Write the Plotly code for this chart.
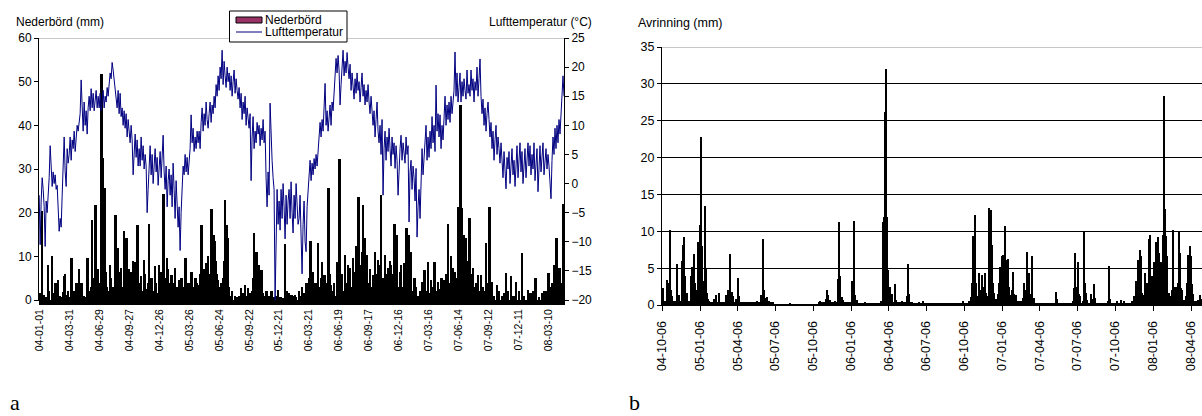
import pandas as pd
import plotly.graph_objects as go

# ---------------- data ----------------
START_A = pd.Timestamp("2004-01-01")   # left chart: first day
START_B = pd.Timestamp("2004-10-06")   # right chart: first day
TEMP_STEP = 3                            # temperature sampled every 3rd day

# Air temperature (°C), one value every 3 days from 2004-01-01
temp_c = [
    -2, -10.5, -3, 1, -1, -4, -10.8, -3, -5, -2,
    1, 6.5, 3, -0.5, 2, 0, 1.5, -1, -0.3, -4,
    -8.2, -6, -7.5, -2, 4, 8, 2, -0.5, 6, 3.5,
    5, 8, 4, 7.5, 6, 9, 5.5, 8, 10, 9,
    11, 12, 17.8, 13, 9, 14, 10, 12.5, 8.5, 13,
    15, 12.5, 16.3, 13, 15.5, 12.5, 14, 16, 13, 15,
    13, 15.5, 12.5, 14.5, 16, 13, 15, 14, 16.5, 15,
    17.5, 19, 18, 20.8, 19.5, 17.5, 16, 15, 13, 16,
    12, 15.5, 11.5, 13, 10, 12.5, 9.5, 12, 8, 11,
    9, 7, 10, 7.5, 1.5, 6, 8.5, 4.5, 7.5, 3,
    6, 3, 8, 4, 6.5, 2.5, 5, 3, -5, -1,
    4, 6.5, 1.5, 5, 0, 3.5, 6, 2, 4.5, -0.3,
    3, 5.5, 1, 4, 8.3, 2, -1, 3, -4, 0.5,
    2.5, -2, 1.5, -4, 3.5, -1, -6, 0.5, -3, -7.5,
    -4, -11.5, -5, -1, 3, 1.5, 5, 2, 4.5, 1.5,
    4, 6, 11.8, 7, 9.5, 5.5, 8, 6, 9, 7,
    9, 6, 10.5, 13, 9, 12, 10, 14, 11, 9.5,
    12, 14, 10.5, 13.5, 12, 15, 13, 17, 15, 18.5,
    16, 20, 18, 22.9, 17, 21, 18.5, 16.5, 20, 17.5,
    19, 16, 18.5, 15, 17.5, 19.5, 15.5, 18, 16, 14.5,
    16.5, 13, 15.5, 11, 14, 12, 15, 10, 13, 11,
    9.5, 12, 0.5, 8, 11.5, 6, 9, 7, 10.5, 8.5,
    10, 6.5, 9.5, 7.5, 11, 7, 9, 1, -4, 2,
    -2, 13.8, 8, 4, 1, -1, -20, -5, -1, -7,
    -3, -8, -1, -6, 0, -4, -9.5, -2, -7, -3,
    -1, -6, 0.3, -5, -8.5, -2, -6, 0, -4, -7,
    -6, -2, -9, -15.5, -7, -3, -10, -11.7, -4, -1,
    2, 4, 0.5, 3.5, 1.5, 4.3, 2.5, 5, 3, 6,
    7, 10.5, 8, 11, 9, 12, 17.2, 10, 12.5, 9,
    11, 13.5, 10, 14, 12.5, 15, 18, 21.5, 19, 22,
    19.5, 13.5, 17, 20, 22.9, 18.5, 21, 19, 22.5, 20,
    18, 20.5, 16, 19, 17, 14.5, 18, 15.5, 19, 16,
    17.5, 14, 16.5, 19, 15, 17, 13.5, 16, 14, 17,
    14, 12, 15, 13, 10, 12.5, 8, 11, 14, 9,
    7, 10, 5, 11, -2, 6, 9, 4, 8, 5.5,
    9.5, 6, 3, 8, 5, 7, 2.6, 6.5, 4, -2,
    3, 6, 8.3, 4, 7, 5, 3.5, 8, 5, 6.5,
    -6.6, 2, 4, -1, 3, 1, -3, 2.6, -9.2, -4,
    -1, -6, 3, 6, 1.5, 5, 7.5, 10, 4, 8,
    4.5, 9, 6, 11.5, 7, 10, 5.5, 16.9, 9, 12,
    8, 11.8, 6, 10, 7.5, 12, 15, 10, 13.5, 11,
    14, 10.5, 15, 12, 14.5, 16, 22.6, 15, 19, 14,
    16.5, 19, 14, 17.5, 15, 18, 16, 14.5, 19.5, 15.5,
    17, 15, 19.5, 16, 18, 14, 17.5, 16, 20, 15,
    18, 21.4, 15, 12, 14.5, 10, 13, 9, 12, 14,
    11, 8, 10.5, 6, 9, 4, 7.5, 10, 5, 8,
    6, 3.5, 7, 4, 1, 5.5, 2, -0.9, 4.5, 2.5,
    5.5, 0, 3, 6, 1.5, 4, -0.5, 3, 6.5, 1,
    4, 7, 2, 5.5, 0, 3.5, 6, 1, 4.5, 7,
    3, 6.5, 1.5, 5, 2.5, 7, 0.5, 4, 6, -1.4,
    3, 6.5, 2, 5, 7, 1.5, 4.5, 6, 2.5, 5,
    3, 0, -2.6, 4, 8, 5, 9.5, 6, 10, 7,
    11, 8.5, 12, 14, 18.5, 15,
]

# Precipitation (mm): (day index from 2004-01-01, mm) for days with rain
precip_obs = [
    (3, 1.5), (6, 0.8), (10, 20.3), (14, 1.2), (20, 0.6), (28, 8), (31, 2), (38, 10), (42, 1.5),
    (47, 3), (50, 4), (54, 2.5), (58, 4.5), (62, 1), (67, 0.8), (72, 1.8), (75, 5.4), (78, 5.9),
    (82, 1.2), (88, 2), (92, 0.7), (98, 9.6), (103, 1.5), (107, 2), (113, 4), (117, 1), (121, 7),
    (125, 2.5), (128, 3.8), (135, 1), (140, 0.6), (146, 9.6), (150, 2), (156, 3), (160, 18.4),
    (163, 5), (166, 2.5), (170, 21.8), (173, 3), (178, 7), (181, 2), (185, 4), (188, 51.7),
    (190, 8), (193, 32.5), (195, 4), (198, 25.6), (201, 6.5), (205, 3), (209, 2), (213, 8),
    (216, 5), (220, 1.5), (224, 3), (230, 19.5), (233, 4), (236, 11.9), (240, 2), (244, 6.5),
    (246, 7.3), (248, 3), (252, 1.5), (256, 15.7), (259, 5), (263, 14.2), (266, 3.5), (270, 7),
    (274, 2), (278, 6.5), (282, 9), (286, 2), (288, 8.8), (290, 3), (296, 17.2), (299, 4),
    (303, 1.5), (306, 5.5), (310, 2), (316, 9.2), (319, 6), (323, 2.5), (327, 4), (331, 17.4),
    (334, 3), (338, 5), (343, 2), (348, 7.7), (352, 4), (356, 1.5), (360, 8), (364, 3),
    (367, 6.5), (370, 2), (374, 24.2), (377, 5), (381, 3), (384, 9.7), (387, 7),
    (391, 2.5), (393, 3), (395, 4), (398, 5.8), (401, 2), (405, 4), (408, 7.3), (412, 2),
    (416, 3), (420, 4.6), (424, 1.5), (428, 5), (433, 2), (437, 3), (440, 9.6), (445, 2),
    (449, 4), (453, 1.5), (458, 6.5), (462, 3), (466, 2), (470, 5), (473, 3.9), (478, 2),
    (481, 3.5), (485, 6), (488, 17.2), (492, 3), (495, 7), (499, 4), (503, 8.4), (508, 10),
    (511, 5), (514, 6), (518, 20.9), (521, 8), (524, 15), (528, 13.4), (531, 9), (534, 6),
    (536, 4.6), (540, 3), (544, 2), (548, 4), (552, 5), (555, 9), (558, 22.8), (561, 6),
    (563, 17.2), (566, 4), (568, 14.2), (571, 3), (575, 1), (580, 2), (588, 1), (595, 0.8),
    (600, 1), (606, 2.7), (612, 1.5), (618, 3.4), (624, 1), (628, 2.7), (634, 1.5), (641, 2),
    (644, 5), (646, 15.3), (649, 4), (653, 11.1), (656, 3), (660, 8), (664, 2), (668, 6.9),
    (672, 1.5), (677, 1), (683, 2), (688, 0.7), (692, 1), (698, 2), (705, 0.6), (712, 1),
    (718, 2.3), (725, 0.8), (731, 0.5), (738, 12.8), (745, 2), (750, 1.5), (758, 1.1),
    (762, 1), (768, 1.1), (770, 0.7),
    (780, 2), (785, 1), (790, 3), (797, 1.5), (803, 4), (808, 2), (812, 5), (815, 13.4),
    (818, 3), (822, 6.5), (826, 2), (830, 4), (837, 13), (842, 3), (846, 5), (849, 8.8),
    (853, 2), (857, 5.7), (861, 4), (865, 3), (869, 25.6), (873, 6), (877, 3.5), (881, 2),
    (886, 4), (890, 1), (895, 8.8), (898, 5), (902, 32.3), (906, 3), (910, 6), (914, 2),
    (919, 10.3), (924, 4), (927, 8), (932, 7.3), (936, 3), (942, 9.6), (946, 5), (949, 6.5),
    (952, 12.3), (955, 4), (959, 23.7), (963, 8), (966, 5), (969, 11), (972, 21.8),
    (977, 14.2), (981, 6), (985, 10.3), (989, 4), (993, 7), (997, 3), (1002, 5.8), (1005, 4),
    (1009, 11.1), (1013, 6), (1017, 9.2), (1021, 3), (1024, 8), (1027, 24.1), (1031, 5),
    (1035, 3), (1039, 10.3), (1043, 6), (1047, 7.3), (1050, 4), (1053, 9), (1057, 8),
    (1061, 5), (1064, 6), (1067, 17.4), (1071, 4), (1075, 15), (1079, 3), (1083, 6.5),
    (1087, 8), (1091, 3), (1095, 8.4), (1099, 5), (1103, 16.6), (1106, 4), (1110, 15),
    (1113, 8), (1117, 11.1), (1121, 2), (1127, 5), (1131, 3), (1138, 1), (1145, 2),
    (1149, 4.2), (1153, 3), (1157, 6.9), (1161, 2), (1167, 8.8), (1171, 1.5), (1177, 4.6),
    (1181, 3), (1187, 8.8), (1191, 2), (1197, 4.2), (1202, 2.5), (1208, 5), (1212, 3),
    (1217, 4.6), (1221, 6), (1227, 17.4), (1231, 4), (1236, 10), (1242, 7.3), (1247, 6.5),
    (1251, 5), (1257, 21.4), (1260, 11), (1262, 8), (1265, 44.7), (1269, 21), (1272, 10),
    (1275, 15), (1278, 7), (1282, 14.2), (1286, 9), (1289, 4), (1292, 18.7), (1296, 6),
    (1302, 7.3), (1306, 3), (1311, 4), (1317, 5.8), (1322, 2), (1327, 5.8), (1333, 3),
    (1337, 2), (1342, 13), (1346, 4), (1352, 21.3), (1355, 2), (1359, 4.2), (1365, 1),
    (1375, 3.5), (1380, 2), (1390, 1), (1396, 1.5), (1402, 6.1), (1408, 2), (1417, 5.4),
    (1424, 1), (1432, 4.2), (1440, 2), (1449, 10.7), (1456, 1), (1467, 2.3), (1475, 1.5),
    (1483, 2), (1490, 5), (1500, 0.8), (1510, 1.5), (1517, 2), (1522, 2), (1529, 6.1),
    (1535, 3), (1540, 4), (1547, 8), (1553, 14.2), (1558, 5), (1562, 7.3), (1566, 4),
    (1572, 1.2), (1574, 22),
]

# Runoff (mm/day): base-flow level per period (start day, end day, mm), days from 2004-10-06
runoff_base = [
    (0, 115, 0.5), (115, 270, 0.35), (270, 380, 0.05), (380, 470, 0.4), (470, 530, 0.3),
    (530, 605, 0.35), (605, 742, 0.25), (742, 900, 0.5), (900, 990, 0.2), (990, 1050, 0.3),
    (1050, 1135, 0.15), (1135, 1305, 0.5),
]
# Runoff events: (day index from 2004-10-06, mm)
runoff_obs = [
    (2, 2.3), (3, 2.0), (12, 3.4), (15, 3.0), (18, 10.2), (19, 5), (21, 2.0), (25, 1.2),
    (35, 5.5), (37, 2), (42, 1.4), (48, 6), (50, 8.2), (54, 9.2), (55, 4), (60, 1.6),
    (70, 4), (72, 5.2), (77, 6.9), (79, 3), (83, 2), (86, 8.5), (88, 3.6), (92, 10.8),
    (95, 22.8), (96, 8), (99, 3.2), (104, 13.4), (105, 5), (108, 1.6), (112, 0.8),
    (125, 0.8), (131, 1.4), (137, 1.6), (155, 1.4), (160, 2), (163, 6.9), (165, 2),
    (168, 1.8), (172, 1.2), (178, 0.8), (184, 3.7), (186, 1.2), (230, 0.5), (240, 1.4),
    (244, 8.9), (246, 2), (251, 1.0), (254, 1.1), (258, 0.6), (309, 0.2), (382, 0.5),
    (385, 0.4), (396, 0.8), (398, 2.0), (400, 1.4), (406, 0.7), (418, 0.5), (424, 2.9),
    (426, 3.5), (428, 11.2), (430, 4), (434, 1.1), (438, 0.7), (460, 3.3), (464, 11.4),
    (466, 1.3), (471, 0.7), (490, 0.4), (510, 0.3), (530, 0.6), (534, 11.3), (536, 12),
    (538, 26.2), (541, 32), (542, 15), (544, 12), (546, 4.8), (550, 2.5), (556, 1.5),
    (562, 2.8), (566, 0.7), (580, 0.5), (592, 1.2), (594, 5.5), (596, 1.5), (620, 0.4),
    (630, 0.6), (728, 0.5), (744, 0.6), (746, 1.1), (748, 3), (751, 9.3), (754, 5),
    (757, 12.2), (759, 3), (762, 1.2), (765, 2), (767, 4.4), (770, 2), (773, 4.1),
    (776, 1.5), (778, 2.5), (780, 4.4), (783, 1.6), (786, 1.2), (789, 6), (791, 13.2),
    (794, 12.9), (796, 5), (798, 8.1), (800, 3), (802, 1.6), (806, 0.8), (812, 1.5),
    (815, 3), (817, 5.2), (819, 4), (821, 6.6), (823, 6.8), (825, 3.5), (827, 5.5),
    (829, 10.7), (831, 4), (834, 6.1), (837, 6.3), (839, 2.5), (842, 1.3), (846, 2),
    (849, 4.5), (851, 1.5), (855, 1.3), (860, 0.6), (873, 1), (875, 3.0), (878, 2),
    (881, 7.2), (883, 2.5), (886, 4.3), (889, 1.5), (893, 6.7), (895, 2), (899, 1.0),
    (952, 1.8), (954, 0.8), (994, 0.6), (996, 2.3), (999, 7.0), (1001, 2.5), (1004, 2),
    (1006, 5.9), (1008, 1.5), (1010, 1.2), (1017, 0.6), (1020, 10.0), (1022, 3),
    (1025, 1.6), (1028, 0.7), (1037, 1.5), (1041, 0.8), (1044, 2.8), (1046, 1),
    (1078, 0.5), (1081, 5.3), (1083, 0.8), (1099, 0.5), (1110, 0.7), (1117, 0.6),
    (1140, 1.2), (1145, 3.2), (1148, 2), (1151, 6.1), (1153, 3), (1155, 7.4), (1157, 6.7),
    (1160, 1.6), (1164, 1.4), (1168, 4.3), (1170, 2), (1173, 3), (1176, 8.9), (1178, 4),
    (1180, 9.5), (1182, 3), (1185, 3.9), (1187, 2), (1189, 5.9), (1193, 8.6), (1195, 4),
    (1199, 9.2), (1201, 7.0), (1203, 4), (1205, 5.9), (1208, 3), (1211, 9.5), (1214, 28.4),
    (1216, 13), (1217, 9.3), (1219, 6.6), (1221, 3), (1225, 1.6), (1229, 1.2), (1233, 2),
    (1235, 10.2), (1238, 2.5), (1241, 2.4), (1244, 2.3), (1247, 3), (1250, 10.0),
    (1252, 7.0), (1255, 2.3), (1257, 2), (1261, 0.7), (1265, 1.2), (1268, 3), (1271, 6.8),
    (1275, 8.0), (1277, 6.6), (1280, 2.9), (1283, 1.5), (1288, 0.6), (1294, 0.7),
    (1301, 1.4), (1303, 0.8),
]
RUNOFF_DAYS = 1305

tick_a_labels = ["04-01-01", "04-03-31", "04-06-29", "04-09-27", "04-12-26", "05-03-26",
                 "05-06-24", "05-09-22", "05-12-21", "06-03-21", "06-06-19", "06-09-17",
                 "06-12-16", "07-03-16", "07-06-14", "07-09-12", "07-12-11", "08-03-10"]
tick_b_labels = ["04-10-06", "05-01-06", "05-04-06", "05-07-06", "05-10-06", "06-01-06",
                 "06-04-06", "06-07-06", "06-10-06", "07-01-06", "07-04-06", "07-07-06",
                 "07-10-06", "08-01-06", "08-04-06"]

# ---------------- build ----------------
W, H = 1202, 416
DAY_MS = 86400000
FONT = "Liberation Sans, Arial, sans-serif"
SERIF = "Liberation Serif, Times New Roman, serif"

def px(x):
    return x / W

def py(y):
    return 1 - y / H

temp_dates = [START_A + pd.Timedelta(days=TEMP_STEP * i) for i in range(len(temp_c))]
precip_dates = [START_A + pd.Timedelta(days=d) for d, _ in precip_obs]
precip_vals = [v for _, v in precip_obs]

runoff = [0.0] * RUNOFF_DAYS
for s, e, lvl in runoff_base:
    for d in range(s, min(e, RUNOFF_DAYS)):
        runoff[d] = lvl
for d, v in runoff_obs:
    runoff[d] = v
runoff_dates = [START_B + pd.Timedelta(days=d) for d in range(RUNOFF_DAYS)]

tick_a_vals = list(pd.to_datetime(tick_a_labels, format="%y-%m-%d"))
tick_b_vals = list(pd.to_datetime(tick_b_labels, format="%y-%m-%d"))

fig = go.Figure()
fig.add_trace(go.Bar(x=precip_dates, y=precip_vals, width=5 * DAY_MS,
                     marker=dict(color="black", line=dict(width=0)),
                     xaxis="x", yaxis="y", showlegend=False, name="Nederbörd"))
fig.add_trace(go.Scatter(x=temp_dates, y=temp_c, mode="lines",
                         line=dict(color="#000080", width=1),
                         xaxis="x", yaxis="y2", showlegend=False, name="Lufttemperatur"))
fig.add_trace(go.Bar(x=runoff_dates, y=runoff, width=3 * DAY_MS,
                     marker=dict(color="black", line=dict(width=0)),
                     xaxis="x2", yaxis="y3", showlegend=False, name="Avrinning"))

axis_common = dict(showline=True, linecolor="black", linewidth=1, zeroline=False,
                   automargin=False,
                   ticks="outside", tickcolor="black", tickwidth=1,
                   tickfont=dict(family=FONT, color="black", size=12))

fig.update_layout(
    width=W, height=H, margin=dict(l=0, r=0, t=0, b=0, pad=0, autoexpand=False),
    autosize=False, showlegend=False,
    paper_bgcolor="white", plot_bgcolor="white",
    barmode="overlay", bargap=0,
    font=dict(family=FONT, color="black"),
    xaxis=dict(axis_common, domain=[px(39), px(564)], anchor="y", type="date",
               range=[START_A - pd.Timedelta(hours=12), START_A + pd.Timedelta(days=1575)],
               tickvals=tick_a_vals, ticktext=tick_a_labels, tickangle=-90, ticklen=4,
               tickfont=dict(family=FONT, color="black", size=10.5), showgrid=False,
               minor=dict(ticks="outside", ticklen=4, dtick=2 * DAY_MS, tickcolor="black",
                          tickwidth=1, showgrid=False)),
    yaxis=dict(axis_common, domain=[py(300), py(38)], anchor="x", range=[0, 60], dtick=10,
               ticklen=4, showgrid=False),
    yaxis2=dict(axis_common, overlaying="y", side="right", anchor="x", range=[-20, 25],
                dtick=5, ticklen=4, showgrid=False),
    xaxis2=dict(axis_common, domain=[px(662), 1.0], anchor="y3", type="date",
                range=[START_B - pd.Timedelta(hours=12), START_B + pd.Timedelta(days=1304.5)],
                tickvals=tick_b_vals, ticktext=tick_b_labels, tickangle=-90, ticklen=5,
                ticklabelstandoff=5,
                tickfont=dict(family=FONT, color="black", size=12.5), showgrid=False),
    yaxis3=dict(axis_common, domain=[py(305), py(47)], anchor="x2", range=[0, 35], dtick=5,
                ticklen=4, showgrid=True, gridcolor="black", gridwidth=1,
                tickfont=dict(family=FONT, color="black", size=12.5)),
)

shapes = [
    dict(type="line", xref="x domain", yref="y", x0=0, x1=1, y0=60, y1=60,
         line=dict(color="#909090", width=1)),
    dict(type="line", xref="x2 domain", yref="y3", x0=0, x1=1, y0=35, y1=35,
         line=dict(color="#909090", width=1)),
    # legend box
    dict(type="rect", xref="paper", yref="paper", x0=px(229.5), x1=px(347), y0=py(42), y1=py(11),
         fillcolor="white", line=dict(color="black", width=1)),
    dict(type="rect", xref="paper", yref="paper", x0=px(236), x1=px(262), y0=py(23), y1=py(17),
         fillcolor="#993366", line=dict(color="black", width=1)),
    dict(type="line", xref="paper", yref="paper", x0=px(236), x1=px(262), y0=py(32), y1=py(32),
         line=dict(color="#000080", width=1)),
]
fig.update_layout(shapes=shapes)

def ann(text, x, y, xanchor="left", size=12, family=FONT, yanchor="middle"):
    return dict(text=text, x=px(x), y=py(y), xref="paper", yref="paper",
                xanchor=xanchor, yanchor=yanchor, showarrow=False, borderpad=0,
                font=dict(family=family, size=size, color="black"))

fig.update_layout(annotations=[
    ann("Nederbörd (mm)", 15, 22),
    ann("Lufttemperatur (°C)", 593, 22, xanchor="right"),
    ann("Avrinning (mm)", 637, 23, size=12.5),
    ann("Nederbörd", 264, 19.5),
    ann("Lufttemperatur", 264, 31.5),
    ann("a", 9, 416, size=22, family=SERIF, yanchor="bottom"),
    ann("b", 628, 416, size=22, family=SERIF, yanchor="bottom"),
])

fig.write_html("out.html")
